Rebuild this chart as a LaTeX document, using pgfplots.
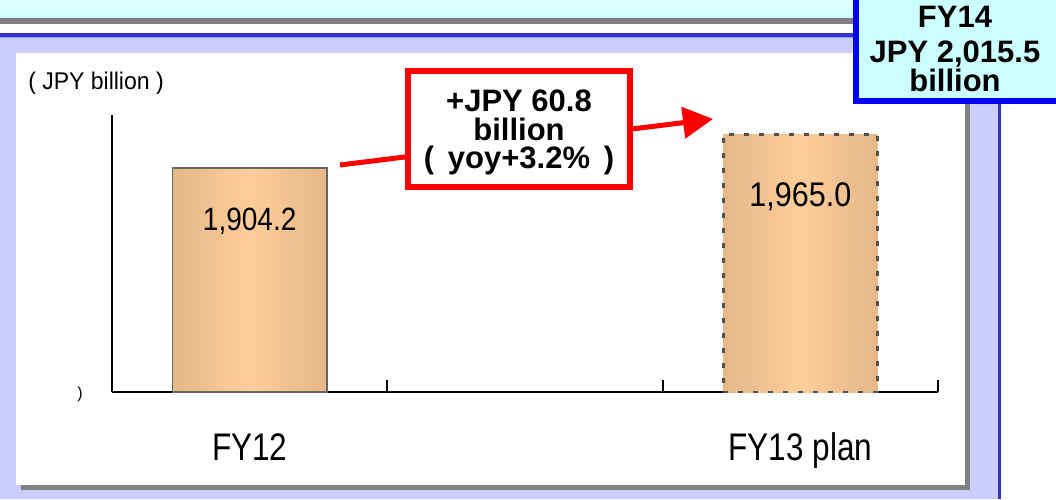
\documentclass[border=0pt]{standalone}
\usepackage{fontspec}
\setmainfont{Liberation Sans}
\usepackage{pgfplots}
\pgfplotsset{compat=1.18}
\usetikzlibrary{arrows.meta}

\definecolor{lav}{RGB}{204,204,255}
\definecolor{blueline}{RGB}{51,51,204}
\definecolor{lightstrip}{RGB}{153,153,238}
\definecolor{shadowgray}{RGB}{128,128,128}
\definecolor{hdrtop}{RGB}{226,255,255}
\definecolor{hdrbot}{RGB}{204,255,255}
\definecolor{boxfill}{RGB}{204,255,255}
\definecolor{boxblue}{RGB}{0,0,255}
\definecolor{bartan}{RGB}{230,184,136}
\definecolor{barpeach}{RGB}{253,205,154}
\definecolor{baredge}{RGB}{102,102,102}
\definecolor{dashedge}{RGB}{80,80,80}

\begin{document}
\begin{tikzpicture}
\path[use as bounding box] (0pt,0pt) rectangle (1056pt,499pt);
\begin{scope}[x=1pt,y=1pt]
\clip (0,0) rectangle (1056,499);
% page background and frame
\fill[white] (0,0) rectangle (1056,499);
\shade[top color=hdrtop, bottom color=hdrbot] (0,481) rectangle (1056,499);
\fill[shadowgray] (0,475) rectangle (1056,481);
\fill[blueline] (0,462.3) rectangle (1056,465.7);
\fill[lightstrip] (0,461) rectangle (1056,462.3);
\fill[lav] (0,0) rectangle (998,461);
\fill[blueline] (998,0) rectangle (1001,463);
% chart panel with drop shadow
\fill[shadowgray] (21,9) rectangle (970,441);
\fill[white] (16,14) rectangle (965,446);
\end{scope}

\begin{axis}[
  at={(112pt,107pt)}, anchor=south west,
  scale only axis, width=826pt, height=277pt,
  xmin=-0.5, xmax=2.5, ymin=1500, ymax=2000,
  axis lines*=left,
  axis line style={draw=black, line width=2pt, -},
  ytick=\empty,
  xtick={0.5,1.5,2.5}, xticklabels={},
  major tick length=12pt,
  tick style={draw=black, line width=2pt},
  x tick style={draw=black, line width=2pt, yshift=12pt},
  extra x ticks={0,2},
  extra x tick labels={FY12,FY13 plan},
  extra x tick style={major tick length=0pt,
    xticklabel style={anchor=base, yshift=-68pt, yscale=1.22,
      font=\fontsize{31.5}{36}\selectfont}},
  ybar,
  bar width=0.56,
  nodes near coords={\pgfmathprintnumber[assume math mode=true, fixed,
      fixed zerofill, precision=1, 1000 sep={,}]{\pgfplotspointmeta}},
]
\addplot[bar shift=0pt, draw=baredge, line width=1.5pt,
  left color=bartan, right color=bartan, middle color=barpeach,
  every node near coord/.append style={anchor=center, yshift=-53pt,
    yscale=1.15, text=black, font=\fontsize{28}{32}\selectfont}]
  coordinates {(0,1904.2)};
\addplot[bar shift=0pt, draw=dashedge, line width=2.5pt,
  dash pattern=on 5pt off 10pt,
  left color=bartan, right color=bartan, middle color=barpeach,
  every node near coord/.append style={anchor=center, yshift=-62pt,
    yscale=1.12, text=black, font=\fontsize{30.5}{34}\selectfont}]
  coordinates {(2,1965.0)};
\end{axis}

\begin{scope}[x=1pt,y=1pt]
\clip (0,0) rectangle (1056,499);
% unit label and stray bracket
\node[font=\fontsize{23}{26}\selectfont, yscale=1.05] at (96,416) {( JPY billion )};
\node[font=\fontsize{16}{18}\selectfont] at (80,105) {)};

% year-on-year change callout
\draw[red, line width=5pt, -{Triangle[length=30pt,width=31pt]}] (340,334) -- (713,380);
\draw[red, line width=6pt, fill=white] (408,312) rectangle (630,428);
\node[anchor=base, font=\fontsize{31}{34}\selectfont\bfseries] at (519,387) {+JPY 60.8};
\node[anchor=base, font=\fontsize{31}{34}\selectfont\bfseries] at (519,359) {billion};
\node[anchor=base, font=\fontsize{31}{34}\selectfont\bfseries] at (519,331) {(\, yoy+3.2\% \,)};

% FY14 target box
\draw[boxblue, line width=5.5pt, fill=boxfill] (855.75,397.75) rectangle (1070,510);
\node[anchor=base, font=\fontsize{31}{34}\selectfont\bfseries] at (955,471) {FY14};
\node[anchor=base, font=\fontsize{31}{34}\selectfont\bfseries] at (955,436) {JPY 2,015.5};
\node[anchor=base, font=\fontsize{31}{34}\selectfont\bfseries] at (955,407) {billion};
\end{scope}
\end{tikzpicture}
\end{document}
